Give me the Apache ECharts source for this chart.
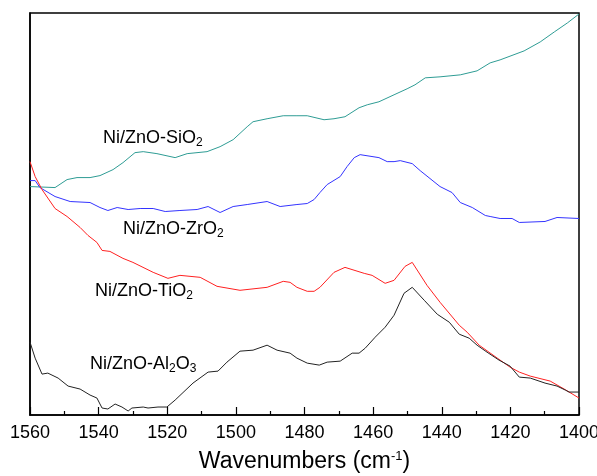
<!DOCTYPE html>
<html>
<head>
<meta charset="utf-8">
<script src="https://cdn.jsdelivr.net/npm/echarts@6/dist/echarts.min.js"></script>
<style>
html, body { margin: 0; padding: 0; background: #fff; }
#main { width: 597px; height: 476px; }
</style>
</head>
<body>
<div id="main"></div>
<script>
// wavenumber / intensity (arbitrary units)
var siWave = [1560, 1552.7, 1549.2, 1546.3, 1542.5, 1539.6, 1535.8, 1532.9, 1529.4, 1527, 1523, 1517.7, 1514.2, 1508.4, 1504.6, 1500.8, 1496.7, 1495, 1490.9, 1486.2, 1482.2, 1479.2, 1474.3, 1471.4, 1468.2, 1464.1, 1461.7, 1458.3, 1453.9, 1450.1, 1447.8, 1444.8, 1440.5, 1434.6, 1429.7, 1425.9, 1423, 1416, 1411.3, 1407.2, 1403.4, 1400];
var siVal = [229, 228, 236, 238, 238, 240, 246, 253, 263, 264, 262, 258, 262, 264, 269, 276, 289, 294, 297, 300, 300, 300, 296, 297, 299, 308, 311, 314, 321, 327, 331, 338, 339, 341, 345, 353, 356, 365, 374, 384, 393, 402];

var zrWave = [1560, 1558.5, 1557.1, 1552.7, 1548.3, 1542.5, 1539.6, 1537.3, 1534.6, 1531.4, 1527.9, 1524.1, 1520.6, 1516.3, 1511.3, 1508.1, 1504.6, 1500.8, 1496.7, 1490.9, 1487.1, 1482.2, 1479.2, 1477.2, 1475.5, 1473.4, 1469.6, 1467.6, 1465.5, 1463.8, 1458.3, 1455.9, 1453.9, 1452.1, 1448.6, 1446.3, 1440.5, 1437, 1434.6, 1431.1, 1427.3, 1425.9, 1423, 1419.5, 1417.4, 1409.9, 1406.4, 1400];
var zrVal = [235, 235, 228, 219, 214, 213, 208, 205, 208, 206, 207, 207, 204, 205, 206, 209, 203, 209, 211, 214, 209, 211, 212, 216, 223, 231, 239, 249, 258, 261, 258, 254, 254, 255, 252, 245, 229, 223, 213, 208, 200, 199, 197, 197, 193, 194, 198, 197];

var tiWave = [1560, 1558.5, 1556.5, 1552.7, 1549.2, 1545.4, 1543.1, 1540.5, 1539, 1536.7, 1532.9, 1530, 1524.1, 1519.8, 1516.3, 1510.4, 1505.5, 1498.8, 1490.9, 1486.2, 1484.2, 1482.2, 1479.2, 1477.2, 1475.5, 1471.4, 1468.2, 1462.6, 1460.3, 1456.5, 1453.9, 1450.7, 1448.6, 1444.3, 1440.5, 1434.9, 1432.6, 1429.1, 1423.8, 1420.1, 1417.4, 1414.2, 1408.4, 1404.3, 1400];
var tiVal = [254, 239, 226, 207, 199, 188, 180, 173, 165, 164, 157, 153, 143, 137, 140, 138, 129, 125, 128, 134, 133, 128, 124, 124, 128, 143, 148, 142, 140, 132, 135, 149, 153, 130, 113, 90, 83, 70, 57, 48, 43, 39, 34, 26, 17];

var alWave = [1560, 1558.5, 1556.5, 1554.8, 1551.8, 1548.9, 1545.4, 1542.5, 1540.5, 1539, 1537.3, 1535.2, 1533.2, 1531.4, 1530.3, 1527, 1525.6, 1522.7, 1520.1, 1517.7, 1512.5, 1508.1, 1505.2, 1502.6, 1498.8, 1495, 1490.9, 1488, 1484.2, 1482.2, 1479.2, 1475.7, 1473.4, 1469.6, 1466.1, 1464.1, 1462.3, 1459.4, 1456.5, 1453.9, 1451, 1448.6, 1445.1, 1441.3, 1437.8, 1434.9, 1432, 1429.7, 1426.8, 1423.3, 1420.1, 1417.4, 1414.2, 1409.9, 1406.4, 1404, 1402.9, 1400];
var alVal = [73, 57, 41, 42, 37, 29, 26, 20, 17, 7, 6, 11, 8, 4, 7, 8, 7, 8, 8, 15, 32, 43, 44, 53, 64, 65, 70, 65, 62, 57, 52, 50, 53, 54, 62, 62, 67, 78, 88, 100, 122, 128, 115, 101, 93, 81, 77, 70, 63, 55, 49, 38, 37, 32, 29, 25, 23, 23];

function pairs(w, v) {
    var out = [];
    for (var i = 0; i < w.length; i++) out.push([w[i], v[i]]);
    return out;
}

var chart = echarts.init(document.getElementById('main'));
var font = 'Liberation Sans, Arial, sans-serif';
var rich = {
    n: { fontSize: 18, fontFamily: font, color: '#111' },
    s: { fontSize: 12, fontFamily: font, color: '#111', padding: [10, 0, 0, 0] }
};
function label(txt, x, y) {
    return { type: 'text', left: x, top: y, style: { text: txt, rich: rich } };
}

chart.setOption({
    animation: false,
    grid: { left: 30, top: 13, right: 18, bottom: 61, outerBoundsMode: 'none',
        show: true, borderColor: '#000', borderWidth: 1.5 },
    xAxis: {
        type: 'value', min: 1400, max: 1560, interval: 20, inverse: true,
        name: 'Wavenumbers (cm{sup|-1})', nameLocation: 'middle', nameGap: 35,
        nameTextStyle: { fontSize: 23, fontFamily: font, color: '#000',
            rich: { sup: { fontSize: 13, fontFamily: font, color: '#000', padding: [0, 0, 11, 0] } } },
        axisLine: { lineStyle: { color: '#000', width: 1.5 } },
        axisTick: { inside: true, length: 8, lineStyle: { color: '#000', width: 1.2 } },
        minorTick: { show: true, splitNumber: 2, length: 4, lineStyle: { color: '#000', width: 1.2 } },
        axisLabel: {
            showMinLabel: true, showMaxLabel: true,
            formatter: function (v) { return String(v); },
            fontSize: 18, fontFamily: font, color: '#000', margin: 9
        },
        splitLine: { show: false }
    },
    yAxis: {
        type: 'value', min: 0, max: 403,
        axisLine: { show: true, lineStyle: { color: '#000', width: 1.5 } },
        axisTick: { show: false }, axisLabel: { show: false }, splitLine: { show: false }
    },
    series: [
        { type: 'line', data: pairs(siWave, siVal), symbol: 'none', lineStyle: { color: '#2e9c94', width: 1 } },
        { type: 'line', data: pairs(zrWave, zrVal), symbol: 'none', lineStyle: { color: '#3333ff', width: 1 } },
        { type: 'line', data: pairs(tiWave, tiVal), symbol: 'none', lineStyle: { color: '#ff2020', width: 1 } },
        { type: 'line', data: pairs(alWave, alVal), symbol: 'none', lineStyle: { color: '#222', width: 1 } }
    ],
    graphic: [
        label('{n|Ni/ZnO-SiO}{s|2}', 103, 129),
        label('{n|Ni/ZnO-ZrO}{s|2}', 123, 220),
        label('{n|Ni/ZnO-TiO}{s|2}', 95, 282),
        label('{n|Ni/ZnO-Al}{s|2}{n|O}{s|3}', 90, 355)
    ]
});
</script>
</body>
</html>
